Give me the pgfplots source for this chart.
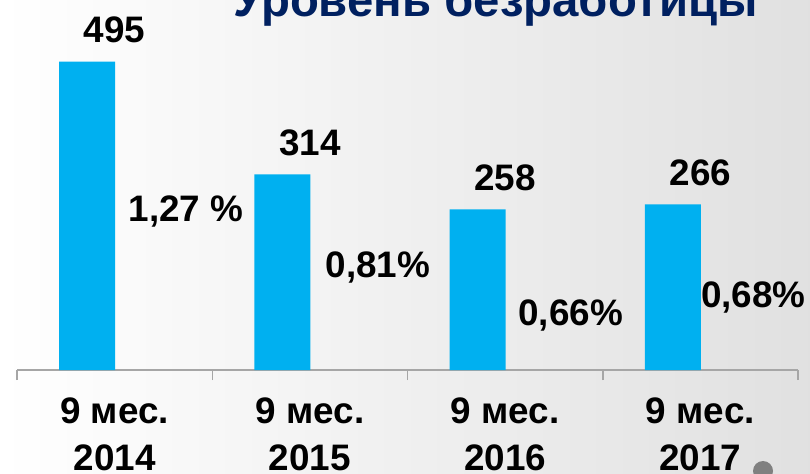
\documentclass[border=0pt]{standalone}
\usepackage{fontspec}
\setmainfont{Liberation Sans}
\usepackage{pgfplots}
\usepackage{pgfplotstable}
\pgfplotsset{compat=1.18}
\definecolor{barblue}{HTML}{00B0F0}
\definecolor{navy}{HTML}{002060}
\definecolor{axgray}{HTML}{A6A6A6}
\newcommand\lab{\fontsize{37}{47}\selectfont\bfseries}

\pgfplotstableread{
x val
0 495
1 314
2 258
3 266
}\unemployed

\pgfplotstableread[col sep=semicolon]{
x;val;lab;dx;dy
0;1.27;1,27 \%;71.5;0
1;0.81;0,81\%;68;21.7
2;0.66;0,66\%;65.5;0
3;0.68;0,68\%;53;14.6
}\rate

\begin{document}
\begin{tikzpicture}
\shade[left color=white, right color=black!12] (0bp,0bp) rectangle (810bp,474bp);
\path[use as bounding box] (0bp,0bp) rectangle (810bp,474bp);
\node[anchor=base, font=\fontsize{47.5}{52}\selectfont\bfseries, text=navy, inner sep=0pt] at (495.5bp,457bp) {Уровень безработицы};
\begin{axis}[at={(17bp,104bp)}, anchor=south west, scale only axis,
  width=781bp, height=340bp, xmin=-0.5, xmax=3.5, ymin=0, ymax=545.7,
  axis x line*=bottom, axis y line=none,
  x axis line style={-}, axis line style={axgray, line width=1.5bp},
  xtick={0,1,2,3},
  xticklabels={{9 мес.\\2014},{9 мес.\\2015},{9 мес.\\2016},{9 мес.\\2017}},
  major tick length=0pt,
  minor xtick={-0.5,0.5,1.5,2.5,3.5}, minor tick length=10bp, tick align=outside,
  tick style={axgray, line width=1.5bp},
  xticklabel style={align=center, font=\lab, anchor=north, inner sep=0pt, yshift=-28bp},
  clip=false]
\addplot[ybar, fill=barblue, draw=none, bar width=56bp, bar shift=-27.5bp,
  nodes near coords, point meta=explicit symbolic,
  every node near coord/.append style={anchor=base, inner sep=0pt, yshift=19bp, font=\lab, text=black}]
  table[x=x, y=val, meta=val] {\unemployed};
\end{axis}
\begin{axis}[at={(17bp,104bp)}, anchor=south west, scale only axis,
  width=781bp, height=340bp, xmin=-0.5, xmax=3.5, ymin=0.3937, ymax=2.4067,
  hide axis, clip=false]
\addplot[draw=none, mark=none, nodes near coords, point meta=explicit symbolic,
  visualization depends on={\thisrow{dx}\as\dx},
  visualization depends on={\thisrow{dy}\as\dy},
  every node near coord/.append style={anchor=base, inner sep=0pt, xshift=\dx bp, yshift=\dy bp, font=\lab, text=black}]
  table[x=x, y=val, meta=lab] {\rate};
\end{axis}
\fill[black!50] (763bp,3bp) circle (10bp);
\end{tikzpicture}
\end{document}
